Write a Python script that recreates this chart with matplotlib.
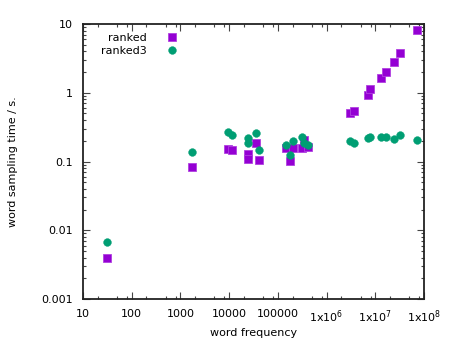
#!/usr/bin/env python3
import numpy as np
import matplotlib
matplotlib.use("Agg")
from matplotlib import pyplot as plt
from matplotlib.ticker import FixedLocator, FuncFormatter, NullFormatter

# word frequency of each sampled word
freq = [31, 1740, 9500, 11500, 24500, 24500, 35500, 41000,
        1.5e5, 1.8e5, 2.04e5, 3.1e5, 3.5e5, 4.1e5,
        3.0e6, 3.6e6, 7.1e6, 7.8e6, 1.29e7, 1.66e7, 2.4e7, 3.2e7, 7.3e7]

# sampling times in seconds
ranked = [0.004, 0.083, 0.152, 0.147, 0.128, 0.109, 0.187, 0.106,
          0.158, 0.103, 0.158, 0.155, 0.206, 0.164,
          0.513, 0.548, 0.94, 1.12, 1.66, 2.02, 2.83, 3.83, 8.2]
ranked3 = [0.0068, 0.138, 0.268, 0.243, 0.22, 0.186, 0.262, 0.149,
           0.174, 0.124, 0.2, 0.229, 0.184, 0.174,
           0.201, 0.187, 0.222, 0.23, 0.23, 0.23, 0.215, 0.245, 0.207]

xtick_labels = ["10", "100", "1000", "10000", "100000",
                r"1x10$^{6}$", r"1x10$^{7}$", r"1x10$^{8}$"]
ytick_labels = ["0.001", "0.01", "0.1", "1", "10"]

plt.rcParams["font.family"] = "DejaVu Sans"
plt.rcParams["mathtext.fontset"] = "dejavusans"
plt.rcParams["font.size"] = 8

fig = plt.figure(figsize=(4.6, 3.44), dpi=100)
ax = fig.add_axes([83/460, 1-299/344, (424-83)/460, (299-24)/344])

ax.plot(freq, ranked, linestyle="none", marker="s", ms=5.6,
        color="#9400d3", mec="#b040e0", mew=0.6, label="ranked")
ax.plot(freq, ranked3, linestyle="none", marker="o", ms=5.6,
        color="#009e73", mec="#009e73", mew=0.3, label="ranked3")

ax.set_xscale("log")
ax.set_yscale("log")
ax.set_xlim(10, 1e8)
ax.set_ylim(0.001, 10)

xmaj = [10.0**k for k in range(1, 9)]
ax.xaxis.set_major_locator(FixedLocator(xmaj))
ax.xaxis.set_major_formatter(FuncFormatter(lambda v, p: xtick_labels[int(round(np.log10(v))) - 1]))
xmin = [m * 10.0**k for k in range(1, 8) for m in (2, 5, 8)]
ax.xaxis.set_minor_locator(FixedLocator(xmin))
ax.xaxis.set_minor_formatter(NullFormatter())

ymaj = [10.0**k for k in range(-3, 2)]
ax.yaxis.set_major_locator(FixedLocator(ymaj))
ax.yaxis.set_major_formatter(FuncFormatter(lambda v, p: ytick_labels[int(round(np.log10(v))) + 3]))
ymin = [m * 10.0**k for k in range(-3, 1) for m in range(2, 10)]
ax.yaxis.set_minor_locator(FixedLocator(ymin))
ax.yaxis.set_minor_formatter(NullFormatter())

for s in ax.spines.values():
    s.set_linewidth(1.3)
    s.set_color("#222222")
ax.tick_params(which="both", direction="in", top=True, right=True,
               color="#444444", width=0.8, labelsize=8, labelcolor="black")
ax.tick_params(which="major", length=5, pad=7)
ax.tick_params(which="minor", length=2.5)

ax.set_xlabel("word frequency", fontsize=8, labelpad=2)
ax.set_ylabel("word sampling time / s.", fontsize=8, labelpad=17)

ax.legend(loc="upper right", bbox_to_anchor=(189/460, 1-27/344),
          bbox_transform=fig.transFigure, frameon=False, markerfirst=False,
          handletextpad=1.3, handlelength=2.0, labelspacing=0.32,
          borderpad=0, fontsize=8)

fig.savefig("out.png", dpi=100)
